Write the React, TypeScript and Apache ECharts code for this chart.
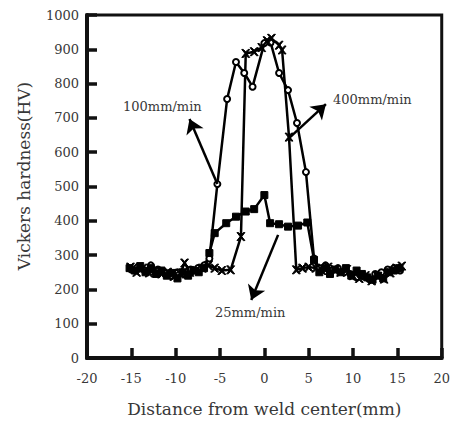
import React, { useEffect, useRef } from "react";
import * as echarts from "echarts";

// 100 mm/min (open circles)
const x100 = [-15.0, -14.3, -13.5, -12.8, -12.0, -11.2, -10.5, -9.8, -9.0, -8.3, -7.5, -6.8, -6.2, -5.3, -4.2, -3.2, -2.27, -1.33, 0.0, 0.7, 1.66, 2.67, 3.68, 4.69, 5.6, 6.2, 6.9, 7.6, 8.3, 9.0, 9.7, 10.4, 11.1, 11.8, 12.5, 13.2, 13.9, 14.6, 15.3];
const y100 = [258, 265, 255, 270, 258, 250, 240, 250, 245, 258, 262, 270, 290, 507, 755, 863, 831, 791, 918, 920, 831, 781, 685, 542, 290, 262, 270, 255, 262, 250, 245, 235, 240, 230, 245, 250, 258, 262, 255];

// 400 mm/min (crosses)
const x400 = [-15.1, -14.4, -13.7, -13.0, -12.3, -11.6, -10.9, -10.2, -9.5, -9.0, -8.4, -7.7, -7.0, -6.3, -5.6, -4.8, -3.8, -2.64, -2.1, -1.15, -0.3, 0.3, 0.8, 1.66, 2.0, 2.78, 3.6, 4.3, 5.0, 5.8, 6.5, 7.2, 7.9, 8.6, 9.3, 10.0, 10.7, 11.4, 12.1, 12.8, 13.5, 14.2, 14.9, 15.5];
const y400 = [265, 250, 262, 248, 255, 245, 250, 238, 245, 277, 250, 255, 262, 270, 262, 255, 257, 354, 888, 893, 905, 925, 932, 912, 898, 644, 257, 262, 265, 262, 255, 265, 258, 250, 258, 240, 232, 240, 225, 238, 230, 248, 262, 268];

// 25 mm/min (filled squares)
const x25 = [-15.2, -14.6, -14.0, -13.4, -12.8, -12.2, -11.6, -11.0, -10.4, -9.8, -9.2, -8.6, -8.0, -7.4, -6.8, -6.2, -5.6, -4.3, -3.2, -2.1, -1.15, 0.0, 0.65, 1.66, 2.67, 3.8, 4.84, 5.6, 6.2, 6.8, 7.4, 8.0, 8.6, 9.2, 9.8, 10.4, 11.0, 11.6, 12.2, 12.8, 13.4, 14.0, 14.6, 15.2];
const y25 = [262, 255, 268, 250, 262, 245, 255, 240, 248, 232, 250, 240, 255, 250, 262, 306, 364, 393, 412, 427, 434, 475, 393, 390, 383, 386, 395, 286, 250, 262, 245, 258, 250, 262, 240, 255, 245, 235, 228, 240, 232, 250, 255, 262];

// axis ranges / tick steps
const xMin = -20, xMax = 20, xStep = 5;
const yMin = 0, yMax = 1000, yStep = 100;

// annotation arrows: [fromX, fromY, toX, toY]
const arrow100 = [-5.3, 507, -8.44, 697];
const arrow400 = [2.78, 641, 6.94, 740];
const arrow25 = [1.55, 359, -1.48, 169];

const labels = ["100mm/min", "400mm/min", "25mm/min"];
const xTitle = "Distance from weld center(mm)";
const yTitle = "Vickers hardness(HV)";

const zip = (xs: number[], ys: number[]) => xs.map((x, i) => [x, ys[i]]);

const crossPath = "path://M0,0L2,0L5,3L8,0L10,0L6,5L10,10L8,10L5,7L2,10L0,10L4,5Z";

const FONT = "DejaVu Serif";
const TXT = "#383838";
const INK = "#111";

export default function App() {
  const ref = useRef<HTMLDivElement>(null);
  useEffect(() => {
    if (!ref.current) return;
    const chart = echarts.init(ref.current, null, { renderer: "svg" });
    const arrowLine = (a: number[]) => [
      { coord: [a[0], a[1]], symbol: "none" },
      { coord: [a[2], a[3]], symbol: "arrow" },
    ];
    const mark = (a: number[]) => ({
      silent: true,
      symbolSize: 14,
      label: { show: false },
      lineStyle: { color: "#000", width: 2.5, type: "solid" },
      data: [arrowLine(a)],
    });
    const lineBase = {
      type: "line",
      color: "#000",
      lineStyle: { color: "#000", width: 2.5 },
      itemStyle: { color: "#000", borderColor: "#000" },
      symbolSize: 7,
      showSymbol: true,
    };
    chart.setOption({
      animation: false,
      grid: {
        left: 87,
        right: 8,
        top: 15,
        bottom: 65,
        show: true,
        borderColor: INK,
        borderWidth: 3,
        backgroundColor: "transparent",
      },
      xAxis: {
        type: "value",
        min: xMin,
        max: xMax,
        interval: xStep,
        name: xTitle,
        nameLocation: "middle",
        nameGap: 42,
        nameTextStyle: { fontFamily: FONT, fontSize: 17, color: TXT },
        axisLine: { show: true, onZero: false, lineStyle: { color: INK, width: 4 } },
        axisTick: { show: true, inside: true, length: 10, lineStyle: { color: INK, width: 3.5 } },
        axisLabel: { fontFamily: FONT, fontSize: 13, color: TXT, margin: 14 },
        splitLine: { show: false },
      },
      yAxis: {
        type: "value",
        min: yMin,
        max: yMax,
        interval: yStep,
        axisLine: { show: true, onZero: false, lineStyle: { color: INK, width: 4 } },
        axisTick: { show: true, inside: true, length: 10, lineStyle: { color: INK, width: 3.5 } },
        axisLabel: {
          fontFamily: FONT,
          fontSize: 13,
          color: TXT,
          margin: 8,
          formatter: (v: number) => String(v),
        },
        splitLine: { show: false },
      },
      series: [
        {
          ...lineBase,
          name: labels[0],
          data: zip(x100, y100),
          symbol: "emptyCircle",
          itemStyle: { color: "#000", borderColor: "#000", borderWidth: 1.8 },
          symbolSize: 6,
          markLine: mark(arrow100),
        },
        {
          ...lineBase,
          name: labels[1],
          data: zip(x400, y400),
          symbol: crossPath,
          symbolSize: 8,
          markLine: mark(arrow400),
        },
        {
          ...lineBase,
          name: labels[2],
          data: zip(x25, y25),
          symbol: "rect",
          markLine: mark(arrow25),
        },
      ],
      graphic: [
        {
          type: "text",
          left: 123,
          top: 100,
          style: { text: labels[0], fontFamily: FONT, fontSize: 13, fill: TXT },
        },
        {
          type: "text",
          left: 333,
          top: 93,
          style: { text: labels[1], fontFamily: FONT, fontSize: 13, fill: TXT },
        },
        {
          type: "text",
          left: 215,
          top: 306,
          style: { text: labels[2], fontFamily: FONT, fontSize: 13, fill: TXT },
        },
        {
          type: "text",
          x: 24,
          y: 176,
          rotation: Math.PI / 2,
          style: {
            text: yTitle,
            fontFamily: FONT,
            fontSize: 17,
            fill: TXT,
            align: "center",
            verticalAlign: "middle",
          },
        },
      ],
    });
    return () => chart.dispose();
  }, []);
  return (
    <div
      ref={ref}
      style={{ position: "fixed", left: 0, top: 0, width: 453, height: 423, background: "#fff" }}
    />
  );
}
